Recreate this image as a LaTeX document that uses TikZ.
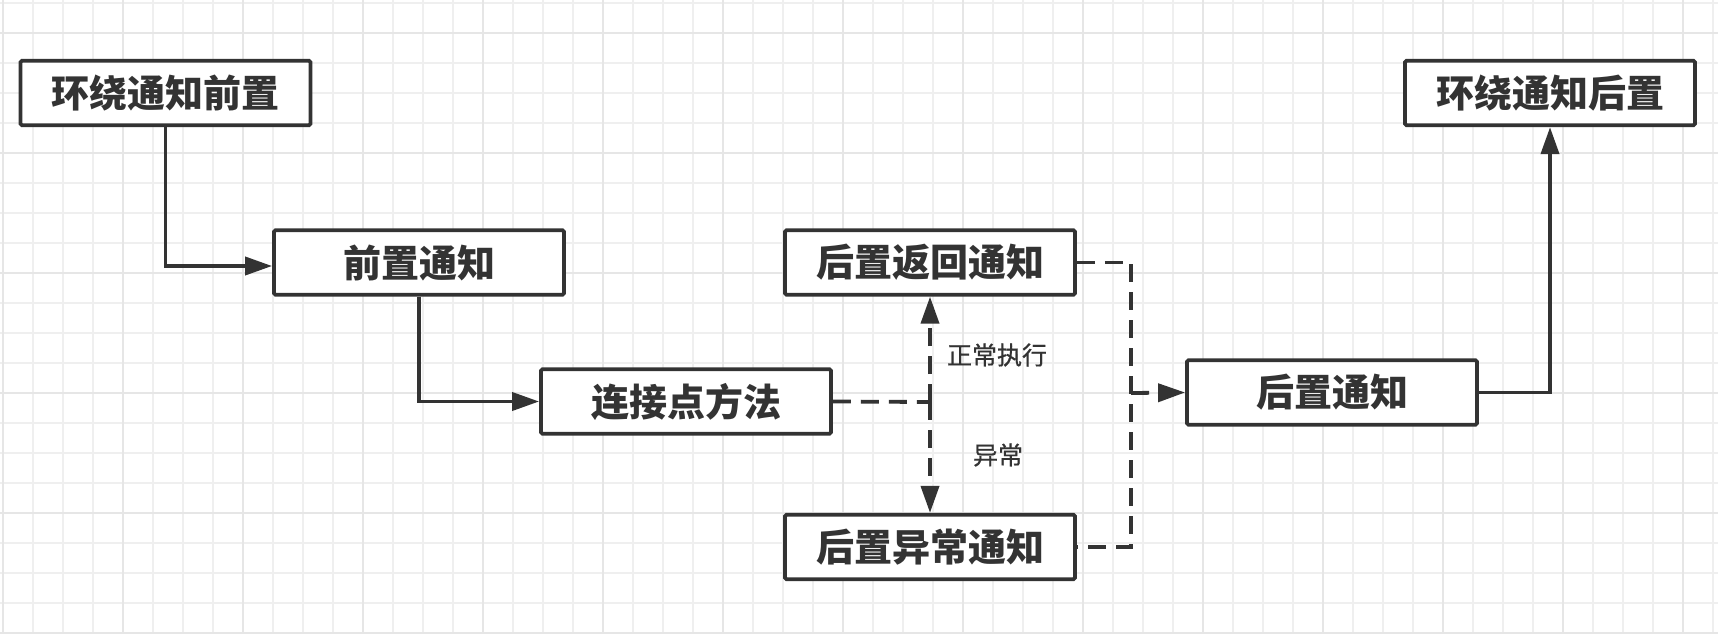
\documentclass[tikz,border=0pt]{standalone}
\usepackage{fontspec}
\newfontfamily\cjk{Noto Sans CJK SC}
\newfontfamily\cjkl[FakeBold=0.6]{Noto Sans CJK SC}
\usetikzlibrary{arrows.meta}
\definecolor{ink}{HTML}{333333}
\definecolor{gridminor}{HTML}{EFEFEF}
\definecolor{gridmajor}{HTML}{E6E6E6}
\begin{document}
\begin{tikzpicture}[x=1pt,y=-1pt,
  box/.style={draw=ink, line width=3.8pt, fill=white, minimum width=290pt, minimum height=64.5pt, inner sep=0pt, rounded corners=1.5pt, font=\cjk\bfseries\fontsize{38}{40}\selectfont, text=ink},
  conn/.style={draw=ink, line width=3.8pt},
  tip/.style={-{Triangle[length=27pt,width=18pt]}},
  dsh/.style={dash pattern=on 18pt off 10pt},
  lbl/.style={font=\cjkl\fontsize{25}{27}\selectfont, text=ink, inner sep=0pt}]
\fill[white] (0,0) rectangle (1718,634);
\useasboundingbox (0,0) rectangle (1718,634);
% grid
\foreach \i in {0,...,57} \draw[gridminor, line width=1.2pt] ({3+30*\i},0) -- ({3+30*\i},634);
\foreach \i in {0,...,21} \draw[gridminor, line width=1.2pt] (0,{3+30*\i}) -- (1718,{3+30*\i});
\foreach \i in {0,...,14} \draw[gridmajor, line width=1.6pt] ({3+120*\i},0) -- ({3+120*\i},634);
\foreach \i in {0,...,5} \draw[gridmajor, line width=1.6pt] (0,{33+120*\i}) -- (1718,{33+120*\i});
% boxes
\node[box] (A) at (165.5,93) {环绕通知前置};
\node[box] (B) at (419,262.5) {前置通知};
\node[box] (C) at (686,401.5) {连接点方法};
\node[box] (D) at (930,262.5) {后置返回通知};
\node[box] (E) at (930,547) {后置异常通知};
\node[box] (F) at (1332,392.5) {后置通知};
\node[box] (G) at (1550,93) {环绕通知后置};
% connector coordinates
\coordinate (J) at (930,402);
\coordinate (M) at (1131,393);
% solid connectors
\draw[conn,tip] (A.south) |- ([yshift=-3.5pt]B.west);
\draw[conn,tip] (B.south) |- (C.west);
\draw[conn,tip] (F.east) -| (G.south);
% dashed connectors
\draw[conn,dsh] (C.east) -- (J);
\draw[conn,dsh,tip] (J) -- (D.south);
\draw[conn,dsh,tip] (J) -- (E.north);
\draw[conn,dsh] (D.east) -| (M) |- (E.east);
\draw[conn,dsh,tip] (M) -- (F.west);
% labels
\node[lbl] (L1) at (997,355) {正常执行};
\node[lbl] (L2) at (998,455) {异常};
\end{tikzpicture}
\end{document}
